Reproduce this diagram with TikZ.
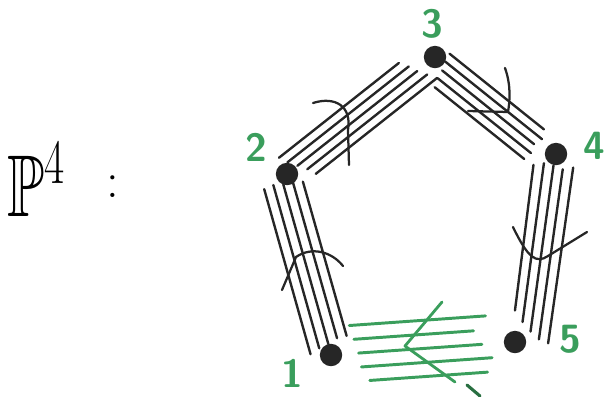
\documentclass[tikz,border=0pt]{standalone}
\usepackage{amsmath}
\usepackage{amssymb}
\usepackage{tikz}
\usepackage{xcolor}
\usetikzlibrary{calc}

\definecolor{pengreen}{RGB}{58,158,92}
\pgfdeclarelayer{strands}
\pgfsetlayers{strands,main}

\begin{document}
\begin{tikzpicture}[
x=0.025cm, y=-0.025cm,
dot/.style={circle, fill=black!85, inner sep=0pt, minimum size=0.56cm},
lbl/.style={text=pengreen, font=\fontsize{28}{28}\selectfont\sffamily\bfseries, inner sep=0pt},
strand/.style={line width=1.7pt, line cap=round, draw=black!85},
greenstrand/.style={strand, draw=pengreen, line width=2.1pt},
crossmark/.style={line width=1.6pt, line cap=round, line join=round, draw=black!85}
]
\useasboundingbox (0,0) rectangle (606,396);

\node (pfour) [inner sep=0pt, font=\fontsize{24}{24}\selectfont, xscale=1.8, yscale=2.6, transform shape] at (37,180) {$\mathbb{P}^4$};
\node (colon) [inner sep=0pt, font=\fontsize{36}{36}\selectfont] at (113,187) {:};

\node (v1) [dot] at (331,355) {};
\node (v2) [dot] at (287,174) {};
\node (v3) [dot] at (435,57) {};
\node (v4) [dot] at (556,154) {};
\node (v5) [dot] at (515,342) {};

\node (n1) [lbl] at ([shift={(-39,18)}]v1) {1};
\node (n2) [lbl] at ([shift={(-31,-27)}]v2) {2};
\node (n3) [lbl] at ([shift={(-3,-33)}]v3) {3};
\node (n4) [lbl] at ([shift={(38,-8)}]v4) {4};
\node (n5) [lbl] at ([shift={(55,-3)}]v5) {5};

\begin{pgfonlayer}{strands}
% 2 -- 1
\foreach \k/\a/\b in {-2/0.05/0.03, -1/0.04/0.05, 0/0.05/0.06, 1/0.05/0.08, 2/0.06/0.08}
  \draw[strand] ($(v2)!\a!(v1)!\k*7pt-4.3pt!90:(v1)$) -- ($(v1)!\b!(v2)!\k*7pt!-90:(v2)$);
% 2 -- 3
\foreach \k/\a/\b in {-2/0.12/0.06, -1/0.1/0.09, 0/0.07/0.12, 1/0.04/0.14, 2/0.02/0.17}
  \draw[strand] ($(v2)!\a!(v3)!\k*6.3pt!90:(v3)$) -- ($(v3)!\b!(v2)!\k*6.3pt!-90:(v2)$);
% 3 -- 4
\foreach \k/\a/\b in {-2/0.12/0.14, -1/0.1/0.13, 0/0.09/0.15, 1/0.07/0.13, 2/0.06/0.16}
  \draw[strand] ($(v3)!\a!(v4)!\k*6.3pt-4.3pt!90:(v4)$) -- ($(v4)!\b!(v3)!\k*6.3pt-4.3pt!-90:(v3)$);
% 4 -- 5
\foreach \k/\a/\b in {-2/0.08/0.16, -1/0.06/0.11, 0/0.06/0.07, 1/0.07/0.04, 2/0.05/0.03}
  \draw[strand] ($(v4)!\a!(v5)!\k*7pt!90:(v5)$) -- ($(v5)!\b!(v4)!\k*7pt+9.2pt!-90:(v4)$);
% 1 -- 5, green
\foreach \k/\a/\b in {-2/0.2/0.16, -1/0.16/0.13, 0/0.15/0.18, 1/0.13/0.22, 2/0.11/0.15}
  \draw[greenstrand] ($(v1)!\a!(v5)!\k*10pt!90:(v5)$) -- ($(v5)!\b!(v1)!\k*10pt!-90:(v1)$);
\end{pgfonlayer}

\draw[crossmark] (282,290) -- (296,257) .. controls (312,246) and (332,252) .. (343,266);
\draw[crossmark] (313,103) .. controls (335,96) and (352,106) .. (348,130) -- (349,165);
\draw[crossmark] (505,68) .. controls (511,85) and (510,100) .. (508,112) -- (468,111);
\draw[crossmark] (513,227) .. controls (528,258) and (536,264) .. (548,256) -- (587,232);
\draw[crossmark, pengreen, line width=2pt] (442,302) -- (405,346) -- (455,382);
\draw[crossmark, pengreen!70!black, line width=2.2pt] (467,385) -- (480,396);

\end{tikzpicture}
\end{document}
